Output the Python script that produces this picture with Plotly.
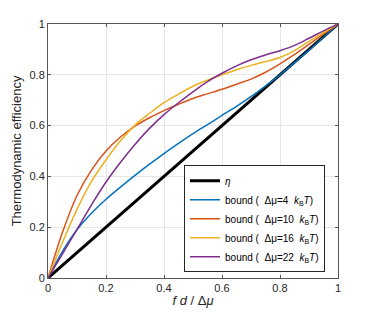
import plotly.graph_objects as go

x = [0, 0.05, 0.1, 0.15, 0.2, 0.25, 0.3, 0.35, 0.4, 0.45, 0.5,
     0.55, 0.6, 0.65, 0.7, 0.75, 0.8, 0.85, 0.9, 0.95, 1.0]
eta = list(x)
bound4 = [0, 0.105, 0.19, 0.255, 0.31, 0.358, 0.404, 0.448, 0.49, 0.53, 0.568,
          0.604, 0.64, 0.676, 0.714, 0.756, 0.80, 0.848, 0.897, 0.948, 1.0]
bound10 = [0, 0.18, 0.325, 0.425, 0.50, 0.555, 0.598, 0.631, 0.659, 0.684, 0.707,
           0.725, 0.743, 0.763, 0.783, 0.81, 0.843, 0.88, 0.92, 0.96, 1.0]
bound16 = [0, 0.14, 0.27, 0.38, 0.465, 0.54, 0.602, 0.648, 0.69, 0.724, 0.755,
           0.779, 0.80, 0.82, 0.837, 0.852, 0.868, 0.895, 0.932, 0.966, 1.0]
bound22 = [0, 0.095, 0.191, 0.288, 0.378, 0.456, 0.526, 0.589, 0.643, 0.69, 0.733,
           0.773, 0.806, 0.835, 0.859, 0.878, 0.895, 0.916, 0.944, 0.973, 1.0]

ticks = [0, 0.2, 0.4, 0.6, 0.8, 1]
tick_text = ["0", "0.2", "0.4", "0.6", "0.8", "1"]

series = [
    ("bound (  Δμ=4  <i>k</i><sub>B</sub><i>T</i>)", bound4, "#0072BD"),
    ("bound (  Δμ=10  <i>k</i><sub>B</sub><i>T</i>)", bound10, "#D95319"),
    ("bound (  Δμ=16  <i>k</i><sub>B</sub><i>T</i>)", bound16, "#EDB120"),
    ("bound (  Δμ=22  <i>k</i><sub>B</sub><i>T</i>)", bound22, "#7E2F8E"),
]

fig = go.Figure()
fig.add_trace(go.Scatter(x=x, y=eta, mode="lines", name="<i>η</i>",
                         line=dict(color="black", width=3)))
for name, ys, col in series:
    fig.add_trace(go.Scatter(x=x, y=ys, mode="lines", name=name,
                             line=dict(color=col, width=1.5, shape="spline", smoothing=1.0)))

axis_common = dict(
    range=[0, 1], tickvals=ticks, ticktext=tick_text,
    showgrid=True, gridcolor="#e6e6e6", gridwidth=1,
    showline=True, linecolor="#555555", linewidth=1, mirror="ticks",
    ticks="inside", ticklen=3, tickcolor="#555555",
    zeroline=False, tickfont=dict(size=11, color="#262626"),
    automargin=False,
)

# page body has an 8px default margin, so the figure is sized to fit the window
fig.update_layout(
    width=366, height=308,
    margin=dict(l=40, r=36, t=16, b=38),
    paper_bgcolor="white", plot_bgcolor="white",
    font=dict(family="Liberation Sans, Arial, sans-serif", color="#262626"),
    xaxis=dict(**axis_common,
               title=dict(text="<i>f d</i> / Δ<i>μ</i>", font=dict(size=13), standoff=2)),
    yaxis=dict(**axis_common,
               title=dict(text="Thermodynamic efficiency", font=dict(size=13), standoff=4)),
    legend=dict(x=0.469, y=0.444, xanchor="left", yanchor="top",
                bgcolor="white", bordercolor="#262626", borderwidth=1,
                font=dict(size=10, color="black"), itemwidth=30,
                tracegroupgap=0),
    showlegend=True,
)

fig.write_html("out.html")
